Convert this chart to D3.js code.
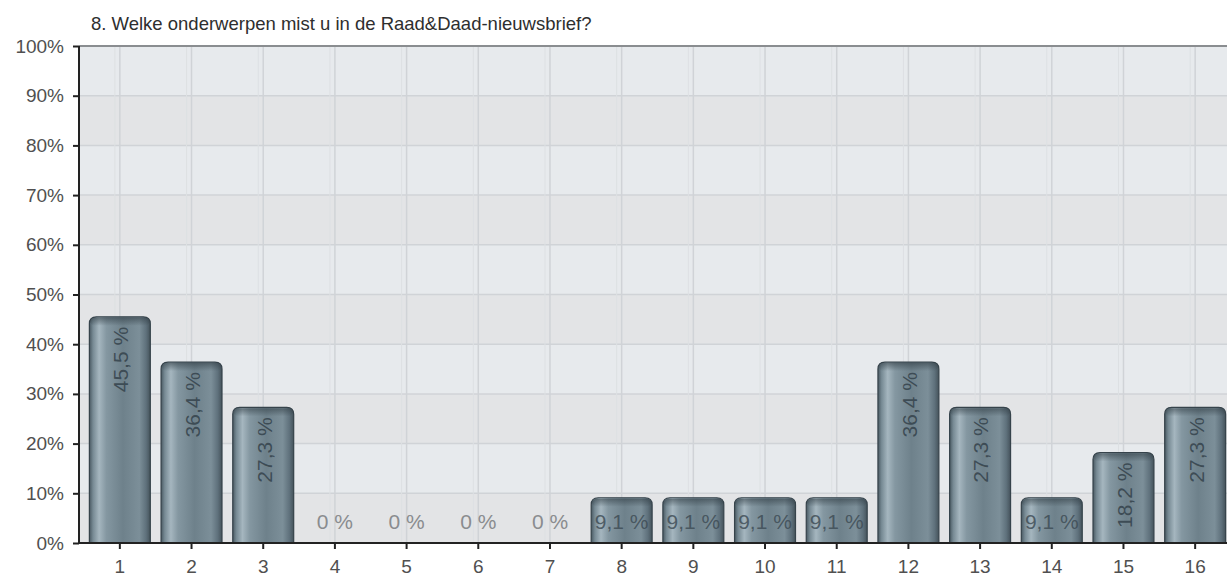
<!DOCTYPE html>
<html>
<head>
<meta charset="utf-8">
<script src="https://cdn.jsdelivr.net/npm/d3@7"></script>
<style>
  body { margin: 0; background: #ffffff; }
  svg { display: block; font-family: "Liberation Sans", Arial, sans-serif; }
</style>
</head>
<body>
<svg id="chart" width="1227" height="577"></svg>
<script>
var TITLE = "8. Welke onderwerpen mist u in de Raad&Daad-nieuwsbrief?";
var CATEGORIES = ["1", "2", "3", "4", "5", "6", "7", "8", "9", "10", "11", "12", "13", "14", "15", "16"];
var PERCENTS = [45.5, 36.4, 27.3, 0, 0, 0, 0, 9.1, 9.1, 9.1, 9.1, 36.4, 27.3, 9.1, 18.2, 27.3];
var Y_TICKS = [0, 10, 20, 30, 40, 50, 60, 70, 80, 90, 100];

var WIDTH = 1227;
var HEIGHT = 577;
var LEFT = 79;
var TOP = 46;
var BOTTOM = 543;
var RIGHT = 1231;

var svg = d3.select("#chart");

var x = d3.scaleBand()
          .domain(CATEGORIES)
          .range([LEFT + 5, RIGHT])
          .paddingInner(0.15)
          .paddingOuter(0.075);

var y = d3.scaleLinear()
          .domain([0, 100])
          .range([BOTTOM, TOP]);

function fmt(v)
{
  return String(v).replace(".", ",") + " %";
}

// gradient for the cylinder bars
var defs = svg.append("defs");
var grad = defs.append("linearGradient")
               .attr("id", "barGrad")
               .attr("x1", "0").attr("x2", "1")
               .attr("y1", "0").attr("y2", "0");
[["0%", "#4a5a63"], ["6%", "#778a94"], ["16%", "#a5b6bf"], ["28%", "#8497a1"],
 ["55%", "#6e818b"], ["82%", "#7c8f99"], ["93%", "#5f717c"], ["100%", "#45535b"]]
  .forEach(function(s) {
    grad.append("stop").attr("offset", s[0]).attr("stop-color", s[1]);
  });

var topGrad = defs.append("linearGradient")
                  .attr("id", "topGrad")
                  .attr("x1", "0").attr("x2", "0")
                  .attr("y1", "0").attr("y2", "1");
topGrad.append("stop").attr("offset", "0%").attr("stop-color", "#2f3b42").attr("stop-opacity", 0.55);
topGrad.append("stop").attr("offset", "100%").attr("stop-color", "#2f3b42").attr("stop-opacity", 0);

var clip = defs.append("clipPath").attr("id", "plotClip");
clip.append("rect")
    .attr("x", LEFT).attr("y", TOP - 2)
    .attr("width", WIDTH - LEFT).attr("height", BOTTOM - TOP + 4);

var plot = svg.append("g").attr("clip-path", "url(#plotClip)");

// background stripes
var bands = Y_TICKS.slice(0, -1);
plot.selectAll(".band")
    .data(bands)
    .enter()
    .append("rect")
    .attr("class", "band")
    .attr("x", LEFT)
    .attr("y", function(d) { return y(d + 10); })
    .attr("width", RIGHT - LEFT)
    .attr("height", function(d) { return y(d) - y(d + 10); })
    .attr("fill", function(d, i) { return (i % 2 == 0) ? "#e3e4e6" : "#e7eaed"; });

// grid
plot.selectAll(".hgrid")
    .data(Y_TICKS.slice(1, -1))
    .enter()
    .append("line")
    .attr("x1", LEFT).attr("x2", RIGHT)
    .attr("y1", function(d) { return y(d); })
    .attr("y2", function(d) { return y(d); })
    .attr("stroke", "#d0d3d7")
    .attr("stroke-width", 1.5);

plot.selectAll(".vgrid")
    .data(CATEGORIES)
    .enter()
    .append("line")
    .attr("x1", function(d) { return x(d) + x.bandwidth() / 2; })
    .attr("x2", function(d) { return x(d) + x.bandwidth() / 2; })
    .attr("y1", TOP).attr("y2", BOTTOM)
    .attr("stroke", "#d0d3d7")
    .attr("stroke-width", 1.5);

plot.selectAll(".vgrid2")
    .data(CATEGORIES)
    .enter()
    .append("line")
    .attr("x1", function(d) { return x(d) + x.bandwidth() / 2 - 5; })
    .attr("x2", function(d) { return x(d) + x.bandwidth() / 2 - 5; })
    .attr("y1", TOP).attr("y2", BOTTOM)
    .attr("stroke", "#dde0e3")
    .attr("stroke-width", 1);

// top border of plot
svg.append("line")
   .attr("x1", LEFT).attr("x2", WIDTH)
   .attr("y1", TOP).attr("y2", TOP)
   .attr("stroke", "#8a8d90")
   .attr("stroke-width", 2);

// bars
function barPath(d, i)
{
  var x0 = x(CATEGORIES[i]);
  var w = x.bandwidth();
  var y0 = y(d);
  var r = 7;
  return "M" + x0 + "," + BOTTOM +
         "V" + (y0 + r) +
         "Q" + x0 + "," + y0 + " " + (x0 + r) + "," + y0 +
         "H" + (x0 + w - r) +
         "Q" + (x0 + w) + "," + y0 + " " + (x0 + w) + "," + (y0 + r) +
         "V" + BOTTOM + "Z";
}

var nonZero = PERCENTS.map(function(d, i) { return {v: d, i: i}; })
                      .filter(function(d) { return d.v > 0; });

plot.selectAll(".bar")
    .data(nonZero)
    .enter()
    .append("path")
    .attr("class", "bar")
    .attr("d", function(d) { return barPath(d.v, d.i); })
    .attr("fill", "url(#barGrad)")
    .attr("stroke", "#36434b")
    .attr("stroke-width", 1.2);

plot.selectAll(".bartop")
    .data(nonZero)
    .enter()
    .append("rect")
    .attr("class", "bartop")
    .attr("x", function(d) { return x(CATEGORIES[d.i]) + 1; })
    .attr("y", function(d) { return y(d.v) + 1; })
    .attr("width", x.bandwidth() - 2)
    .attr("height", 8)
    .attr("rx", 5)
    .attr("fill", "url(#topGrad)");

// value labels
PERCENTS.forEach(function(d, i) {
  var cx = x(CATEGORIES[i]) + x.bandwidth() / 2;
  if (d >= 15)
  {
    var ty = y(d) + 10;
    svg.append("text")
       .text(fmt(d))
       .attr("transform", "translate(" + (cx + 1) + "," + ty + ") rotate(-90)")
       .attr("text-anchor", "end")
       .attr("dy", "0.35em")
       .attr("font-size", "21px")
       .attr("fill", "#34424b")
       .attr("fill-opacity", 0.85);
  }
  else
  {
    svg.append("text")
       .text(fmt(d))
       .attr("x", cx)
       .attr("y", (y(9.1) + BOTTOM) / 2 + 1)
       .attr("text-anchor", "middle")
       .attr("dy", "0.35em")
       .attr("font-size", "21px")
       .attr("fill", d > 0 ? "#3b4952" : "#8a8c8f")
       .attr("fill-opacity", d > 0 ? 0.8 : 1);
  }
});

// axes
var yAxis = svg.append("g")
               .attr("transform", "translate(" + LEFT + ",0)")
               .call(d3.axisLeft(y)
                       .tickValues(Y_TICKS)
                       .tickSize(6)
                       .tickPadding(9)
                       .tickFormat(function(d) { return d + "%"; }));

var xAxis = svg.append("g")
               .attr("transform", "translate(0," + BOTTOM + ")")
               .call(d3.axisBottom(x)
                       .tickSize(6)
                       .tickPadding(11)
                       .tickSizeOuter(0));

[yAxis, xAxis].forEach(function(ax) {
  ax.select(".domain").attr("stroke", "#222").attr("stroke-width", 2);
  ax.selectAll(".tick line").attr("stroke", "#222").attr("stroke-width", 2);
  ax.selectAll(".tick text")
    .attr("font-family", "Liberation Sans, Arial, sans-serif")
    .attr("font-size", "19px")
    .attr("fill", "#505050");
});
xAxis.select(".domain").attr("d", "M" + LEFT + ",0H" + WIDTH);
yAxis.select(".domain").attr("d", "M0," + TOP + "V" + BOTTOM);

// title
svg.append("text")
   .text(TITLE)
   .attr("x", 91)
   .attr("y", 30)
   .attr("font-size", "18.5px")
   .attr("fill", "#2e2e2e");
</script>
</body>
</html>
